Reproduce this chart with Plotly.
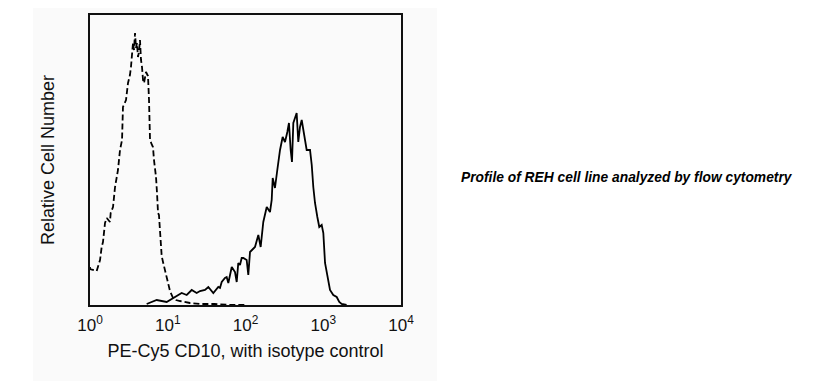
import plotly.graph_objects as go

# Isotype control (dashed) : log10 fluorescence, relative count
isotype_log10 = [0.0, 0.0, 0.086, 0.129, 0.150, 0.167, 0.193, 0.215, 0.257, 0.266, 0.296, 0.322,
                 0.360, 0.386, 0.412, 0.424, 0.463, 0.489, 0.514, 0.527, 0.553, 0.566, 0.579,
                 0.592, 0.604, 0.617, 0.630, 0.643, 0.656, 0.669, 0.682, 0.695, 0.720, 0.746,
                 0.759, 0.772, 0.797, 0.810, 0.823, 0.849, 0.862, 0.875, 0.887, 0.900, 0.922,
                 0.939, 0.965, 0.990, 1.029, 1.068, 1.106, 1.158, 1.222, 1.286, 1.415, 1.60,
                 1.80, 2.0]
isotype_count = [38, 36, 34, 45, 58, 63, 82, 87, 83, 92, 98, 118,
                 135, 155, 165, 198, 205, 222, 230, 238, 262, 255, 272,
                 257, 262, 248, 253, 265, 245, 238, 225, 222, 233, 229,
                 205, 165, 160, 158, 145, 128, 112, 92, 90, 73, 49,
                 43, 35, 25, 14, 7, 5, 4, 3, 2, 1, 1,
                 0, 0]

# PE-Cy5 CD10 (solid)
cd10_log10 = [0.729, 0.858, 0.986, 1.071, 1.179, 1.244, 1.308, 1.372, 1.415, 1.479, 1.501,
              1.522, 1.586, 1.650, 1.672, 1.694, 1.736, 1.758, 1.779, 1.823, 1.865, 1.887,
              1.907, 1.929, 1.951, 1.972, 2.015, 2.036, 2.058, 2.122, 2.165, 2.195, 2.229,
              2.273, 2.315, 2.337, 2.350, 2.379, 2.409, 2.444, 2.478, 2.508, 2.538, 2.559,
              2.581, 2.598, 2.615, 2.637, 2.658, 2.679, 2.701, 2.723, 2.743, 2.765, 2.787,
              2.830, 2.852, 2.872, 2.894, 2.924, 2.949, 2.980, 3.001, 3.023, 3.057, 3.087,
              3.129, 3.173, 3.206, 3.237, 3.30]
cd10_count = [1, 5, 3, 7, 12, 10, 15, 12, 14, 15, 17,
              18, 12, 18, 17, 23, 27, 28, 22, 38, 33, 23,
              42, 40, 47, 47, 45, 30, 53, 58, 70, 58, 83,
              98, 93, 105, 127, 117, 135, 155, 168, 163, 173, 182,
              155, 143, 182, 188, 192, 163, 178, 185, 175, 168, 155,
              155, 140, 118, 102, 88, 78, 80, 72, 42, 28, 15,
              10, 8, 3, 1, 0]

tick_vals = [1, 10, 100, 1000, 10000]
tick_text = ["10<sup>0</sup>", "10<sup>1</sup>", "10<sup>2</sup>", "10<sup>3</sup>", "10<sup>4</sup>"]

fig = go.Figure()
fig.add_trace(go.Scatter(x=[10 ** v for v in isotype_log10], y=isotype_count, mode="lines",
                         line=dict(color="black", width=1.8, dash="6px,3px"), showlegend=False))
fig.add_trace(go.Scatter(x=[10 ** v for v in cd10_log10], y=cd10_count, mode="lines",
                         line=dict(color="black", width=1.8), showlegend=False))

fig.update_layout(
    width=814, height=373,
    margin=dict(l=82, r=421, t=7, b=76, autoexpand=False),
    paper_bgcolor="white",
    plot_bgcolor="#fafafa",
    font=dict(family="Liberation Sans, Arial, sans-serif", color="#111111"),
    shapes=[dict(type="rect", xref="paper", yref="paper", x0=-0.1833, x1=1.1158,
                 y0=-0.262, y1=1.06, fillcolor="#fafafa", line=dict(width=0), layer="below")],
    annotations=[dict(text="<b><i>Profile of REH cell line analyzed by flow cytometry</i></b>",
                      xref="paper", yref="paper", x=1.1865, y=0.438, xanchor="left",
                      yanchor="middle", showarrow=False,
                      font=dict(size=13.8, family="Liberation Sans, Arial, sans-serif", color="black"))],
)
fig.update_xaxes(type="log", range=[0, 4], tickvals=tick_vals, ticktext=tick_text,
                 showgrid=False, zeroline=False, showline=True, mirror=True,
                 linecolor="#111111", linewidth=2, ticks="", automargin=False,
                 tickfont=dict(size=17), ticklabelstandoff=4,
                 title=dict(text="PE-Cy5 CD10, with isotype control", font=dict(size=18), standoff=10))
fig.update_yaxes(range=[0, 290], showticklabels=False, showgrid=False, zeroline=False,
                 showline=True, mirror=True, linecolor="#111111", linewidth=2, ticks="",
                 automargin=False,
                 title=dict(text="Relative Cell Number", font=dict(size=18), standoff=29))

fig.write_html("out.html")
